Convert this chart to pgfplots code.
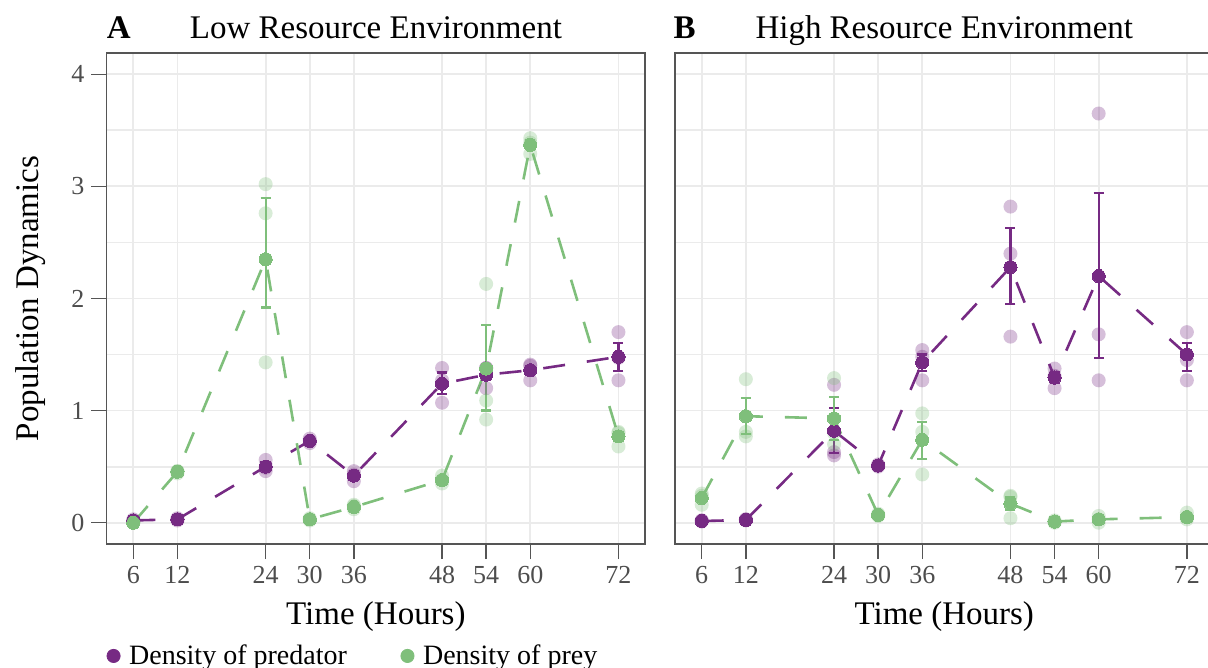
\documentclass[border=0pt]{standalone}
\usepackage{fontspec}
\setmainfont{Liberation Serif}
\usepackage{pgfplots}
\pgfplotsset{compat=1.18}
\definecolor{pred}{HTML}{762A83}
\definecolor{prey}{HTML}{7FBF7B}
\definecolor{gridc}{HTML}{EBEBEB}
\definecolor{axc}{HTML}{4D4D4D}
\definecolor{spine}{HTML}{555555}

\pgfplotsset{
  panel/.style={
    scale only axis, width=269.4pt, height=245.5pt,
    xmin=2.35, xmax=75.65, ymin=-0.19, ymax=4.19,
    xtick={6,12,24,30,36,48,54,60,72},
    ytick={0,1,2,3,4},
    minor ytick={0.5,1.5,2.5,3.5},
    tick pos=left,
    grid=both,
    major grid style={gridc, line width=0.9pt},
    minor grid style={gridc, line width=0.9pt},
    minor tick length=0pt,
    tick align=outside, major tick length=7.5pt,
    tick style={spine, line width=0.7pt},
    axis line style={spine, line width=0.8pt},
    tick label style={font=\fontsize{13}{15}\selectfont, text=axc},
    /pgf/number format/assume math mode=true,
    xlabel={Time (Hours)},
    xlabel style={at={(axis description cs:0.5,-0.163)}, anchor=base, font=\fontsize{16.5}{19}\selectfont, text=black},
    every axis title shift=0pt,
    title style={at={(axis description cs:0.5,1.0305)}, anchor=base, yshift=0pt, font=\fontsize{16.5}{19}\selectfont},
  },
  light/.style={forget plot, only marks, color=#1, mark=*, mark size=3.5pt, mark options={draw opacity=0, fill=#1, fill opacity=0.3}},
  dline/.style={forget plot, #1, line width=1.3pt, dash pattern=on 11pt off 11pt, mark=none},
  mean/.style={forget plot, only marks, #1, mark=*, mark size=3.3pt, mark options={solid, draw=#1, fill=#1, line width=0pt},
    error bars/.cd, y dir=both, y explicit, error mark=|,
    error bar style={#1, line width=1.1pt, solid},
    error mark options={#1, line width=1.1pt, mark size=2.5pt}},
}

\begin{document}
\begin{tikzpicture}
\useasboundingbox (0,0) rectangle (604pt,334pt);

% ---------------- Panel A ----------------
\begin{axis}[panel, at={(53.25pt,62pt)}, anchor=south west,
  title={Low Resource Environment},
  ylabel={Population Dynamics},
  ylabel style={at={(axis description cs:-0.127,0.5)}, anchor=base, font=\fontsize{16.5}{19}\selectfont},
  extra description/.code={\node[anchor=base west, inner sep=0pt, font=\bfseries\fontsize{16.5}{19}\selectfont] at (0,1.0305) {A};},
  legend columns=2,
  legend style={draw=none, fill=none, at={(axis description cs:-0.011,-0.228)}, anchor=west,
    font=\fontsize{14}{16}\selectfont,
    /tikz/every odd column/.append style={column sep=2.5pt},
    /tikz/every even column/.append style={column sep=25pt}},
  legend cell align=left,
]
% individual replicates
\addplot[light=pred] coordinates {
 (6,0.02) (6,0.03) (6,0.01)
 (12,0.03) (12,0.02) (12,0.04)
 (24,0.56) (24,0.46) (24,0.49)
 (30,0.73) (30,0.71) (30,0.75)
 (36,0.46) (36,0.37) (36,0.43)
 (48,1.38) (48,1.07) (48,1.27)
 (54,1.20) (54,1.38) (54,1.38)
 (60,1.40) (60,1.27) (60,1.41)
 (72,1.70) (72,1.27) (72,1.47)};
\addplot[light=prey] coordinates {
 (6,0.00) (6,0.01) (6,0.00)
 (12,0.46) (12,0.44) (12,0.46)
 (24,3.02) (24,2.76) (24,1.43)
 (30,0.03) (30,0.02) (30,0.04)
 (36,0.16) (36,0.12) (36,0.15)
 (48,0.42) (48,0.35) (48,0.38)
 (54,2.13) (54,1.09) (54,0.92)
 (60,3.43) (60,3.29) (60,3.39)
 (72,0.81) (72,0.68) (72,0.80)};
% mean lines
\addplot[dline=pred] coordinates {(6,0.02) (12,0.03) (24,0.50) (30,0.73) (36,0.42) (48,1.24) (54,1.32) (60,1.36) (72,1.48)};
\addplot[dline=prey] coordinates {(6,0.00) (12,0.455) (24,2.35) (30,0.03) (36,0.14) (48,0.38) (54,1.375) (60,3.37) (72,0.77)};
% means with error bars
\addplot[mean=pred] coordinates {
 (6,0.02) +- (0,0.005)
 (12,0.03) +- (0,0.005)
 (24,0.50) +- (0,0.03)
 (30,0.73) +- (0,0.01)
 (36,0.42) +- (0,0.04)
 (48,1.24) += (0,0.10) -= (0,0.09)
 (54,1.32) +- (0,0.05)
 (60,1.36) +- (0,0.04)
 (72,1.48) += (0,0.12) -= (0,0.125)};
\addplot[mean=prey] coordinates {
 (6,0.00) +- (0,0.003)
 (12,0.455) +- (0,0.01)
 (24,2.35) += (0,0.55) -= (0,0.43)
 (30,0.03) +- (0,0.005)
 (36,0.14) +- (0,0.01)
 (48,0.38) +- (0,0.02)
 (54,1.375) += (0,0.385) -= (0,0.375)
 (60,3.37) +- (0,0.04)
 (72,0.77) +- (0,0.04)};
\addlegendimage{only marks, mark=*, mark size=3.3pt, pred}
\addlegendentry{Density of predator}
\addlegendimage{only marks, mark=*, mark size=3.3pt, prey}
\addlegendentry{Density of prey}
\end{axis}

% ---------------- Panel B ----------------
\begin{axis}[panel, at={(337.45pt,62pt)}, anchor=south west,
  title={High Resource Environment},
  yticklabels={}, ytick style={draw=none},
  extra description/.code={\node[anchor=base west, inner sep=0pt, font=\bfseries\fontsize{16.5}{19}\selectfont] at (-0.003,1.0305) {B};},
]
\addplot[light=pred] coordinates {
 (6,0.02) (6,0.01) (6,0.02)
 (12,0.03) (12,0.02) (12,0.03)
 (24,1.23) (24,0.63) (24,0.60)
 (30,0.52) (30,0.50) (30,0.51)
 (36,1.54) (36,1.27) (36,1.48)
 (48,2.82) (48,2.40) (48,1.66)
 (54,1.375) (54,1.20) (54,1.31)
 (60,3.65) (60,1.68) (60,1.27)
 (72,1.70) (72,1.45) (72,1.27)};
\addplot[light=prey] coordinates {
 (6,0.26) (6,0.16) (6,0.24)
 (12,1.28) (12,0.81) (12,0.77)
 (24,1.29) (24,0.80) (24,0.70)
 (30,0.07) (30,0.06) (30,0.08)
 (36,0.975) (36,0.81) (36,0.43)
 (48,0.24) (48,0.04) (48,0.23)
 (54,0.01) (54,0.02) (54,0.00)
 (60,0.06) (60,0.00) (60,0.03)
 (72,0.09) (72,0.05) (72,0.03)};
\addplot[dline=pred] coordinates {(6,0.015) (12,0.024) (24,0.82) (30,0.51) (36,1.43) (48,2.28) (54,1.295) (60,2.20) (72,1.50)};
\addplot[dline=prey] coordinates {(6,0.22) (12,0.95) (24,0.93) (30,0.07) (36,0.74) (48,0.17) (54,0.01) (60,0.03) (72,0.05)};
\addplot[mean=pred] coordinates {
 (6,0.015) +- (0,0.005)
 (12,0.024) +- (0,0.005)
 (24,0.82) += (0,0.20) -= (0,0.20)
 (30,0.51) +- (0,0.01)
 (36,1.43) += (0,0.07) -= (0,0.08)
 (48,2.28) += (0,0.35) -= (0,0.33)
 (54,1.295) +- (0,0.05)
 (60,2.20) += (0,0.74) -= (0,0.73)
 (72,1.50) += (0,0.10) -= (0,0.145)};
\addplot[mean=prey] coordinates {
 (6,0.22) +- (0,0.03)
 (12,0.95) += (0,0.16) -= (0,0.16)
 (24,0.93) += (0,0.19) -= (0,0.19)
 (30,0.07) +- (0,0.005)
 (36,0.74) += (0,0.16) -= (0,0.17)
 (48,0.17) +- (0,0.06)
 (54,0.01) +- (0,0.005)
 (60,0.03) +- (0,0.02)
 (72,0.05) +- (0,0.02)};
\end{axis}
\end{tikzpicture}
\end{document}
